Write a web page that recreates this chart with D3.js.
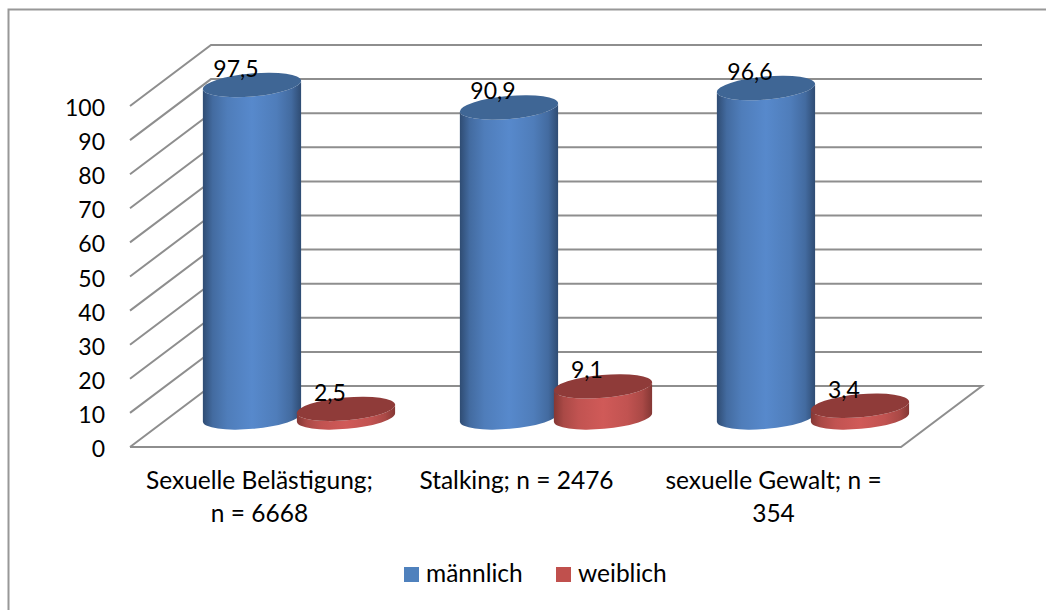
<!DOCTYPE html>
<html><head><meta charset="utf-8">
<script src="https://cdn.jsdelivr.net/npm/d3@7"></script>
<style>html,body{margin:0;padding:0;background:#fff}svg{display:block}text{font-family:Lato,"Open Sans",sans-serif;fill:#000}</style>
</head><body><svg id="c" width="1046" height="610"></svg>
<script>
const categories=[["Sexuelle Belästigung;","n = 6668"],["Stalking; n = 2476"],["sexuelle Gewalt; n =","354"]];
const seriesNames=["männlich","weiblich"];
const maennlich=[97.5,90.9,96.6];
const weiblich=[2.5,9.1,3.4];
const valueLabels=[["97,5","90,9","96,6"],["2,5","9,1","3,4"]];
const tickValues=[0,10,20,30,40,50,60,70,80,90,100];
const colors={blue:{legend:"#4f81bd",edge:"#2f4c73",mid:"#5789cc",top:"#3f6695"},red:{legend:"#c0504d",edge:"#843734",mid:"#d05a58",top:"#8f3b39"}};

const fs=23,fsText=24.5;
const svg=d3.select("#c");
const x=d3.scaleBand().domain(d3.range(categories.length)).range([130,901]);
const y=d3.scaleLinear().domain([0,100]).range([447,106]);
const DX=81,DY=-61;
const P=(px,val,depth)=>[px+DX*depth,y(val)+DY*depth];

svg.append("path").attr("d","M8.5,610V9.5H1046").attr("fill","none").attr("stroke","#989898").attr("stroke-width",2);

const defs=svg.append("defs");
[["blue",colors.blue],["red",colors.red]].forEach(([k,c])=>{
  const g=defs.append("linearGradient").attr("id","g"+k).attr("x1",0).attr("x2",1).attr("y1",0).attr("y2",0);
  const m=d3.interpolateRgb(c.edge,c.mid);
  [[0,c.edge],[0.1,m(0.5)],[0.25,m(0.8)],[0.5,c.mid],[0.75,m(0.8)],[0.9,m(0.5)],[1,c.edge]]
    .forEach(([o,col])=>g.append("stop").attr("offset",o).attr("stop-color",col));
});

// walls and floor
const grid=svg.append("g").attr("fill","none").attr("stroke","#8e8e8e").attr("stroke-width",2);
tickValues.forEach(v=>{
  const a=P(130,v,0),b=P(130,v,1),c=P(901,v,1);
  grid.append("path").attr("d",d3.line()(v===0?[a,b,c,P(901,0,0),a]:[a,b,c]));
});

// axis labels
const tl=svg.append("g").attr("font-size",fs).attr("text-anchor","end");
tickValues.forEach(v=>tl.append("text").attr("x",105).attr("y",y(v)+10).text(v));

// cylinders
const rx=49.3,ry=11.5,rot=-5,s=Math.sin(rot*Math.PI/180),co=Math.cos(rot*Math.PI/180);
const bars=svg.append("g"), labels=svg.append("g").attr("font-size",fs).attr("text-anchor","middle");
function cyl(cat,ser,val,lab,c,key){
  const cx=x(cat)+x.bandwidth()/2+(ser?47:-47)+1.2;
  const [px,yb]=P(cx,0,0.485), yt=P(cx,val,0.485)[1];
  const lx=px-rx*co, rxp=px+rx*co, dyEnd=rx*s;
  const g=bars.append("g");
  g.append("path")
    .attr("d",`M${lx},${yt-dyEnd}L${lx},${yb-dyEnd}A${rx},${ry} ${rot} 0 0 ${rxp},${yb+dyEnd}L${rxp},${yt+dyEnd}A${rx},${ry} ${rot} 0 1 ${lx},${yt-dyEnd}Z`)
    .attr("fill",`url(#g${key})`);
  g.append("ellipse").attr("cx",px).attr("cy",yt).attr("rx",rx).attr("ry",ry)
    .attr("transform",`rotate(${rot} ${px} ${yt})`).attr("fill",c.top);
  labels.append("text").attr("x",px-16).attr("y",yt-8).text(lab);
}
maennlich.forEach((v,i)=>cyl(i,0,v,valueLabels[0][i],colors.blue,"blue"));
weiblich.forEach((v,i)=>cyl(i,1,v,valueLabels[1][i],colors.red,"red"));

// category labels
const cl=svg.append("g").attr("font-size",fsText).attr("text-anchor","middle");
categories.forEach((lines,i)=>lines.forEach((t,j)=>
  cl.append("text").attr("x",x(i)+x.bandwidth()/2+1).attr("y",489+j*33).text(t)));

// legend
const lg=svg.append("g").attr("font-size",fsText);
[[404,426,colors.blue.legend],[556,578,colors.red.legend]].forEach(([sx,tx,col],i)=>{
  lg.append("rect").attr("x",sx).attr("y",567).attr("width",15).attr("height",15).attr("fill",col);
  lg.append("text").attr("x",tx).attr("y",582).text(seriesNames[i]);
});
</script></body></html>
